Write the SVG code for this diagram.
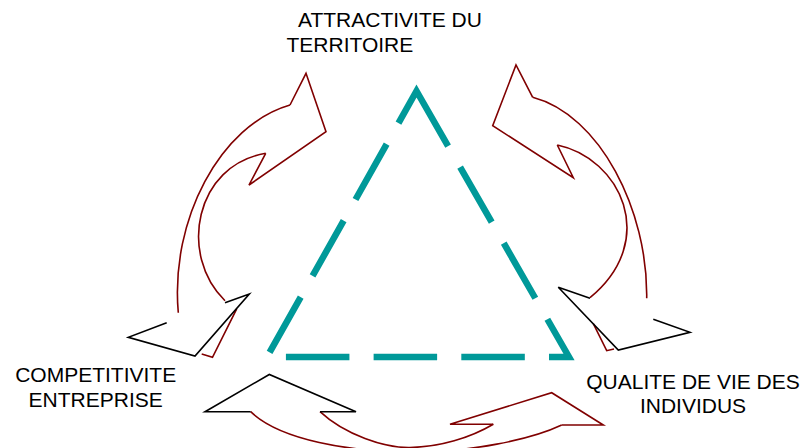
<svg xmlns="http://www.w3.org/2000/svg" width="804" height="448" viewBox="0 0 804 448">
  <style>
    .lbl { font-family: "Liberation Sans", Arial, sans-serif; font-size: 21px; fill: #000; }
    .mr { fill: none; stroke: #800000; stroke-width: 1.6; stroke-linejoin: miter; }
    .bk { fill: none; stroke: #000; stroke-width: 1.6; stroke-linejoin: miter; }
    .tri { fill: none; stroke: #009999; stroke-width: 6.5; stroke-dasharray: 63.5 24.2; stroke-linejoin: miter; }
  </style>
  <rect width="804" height="448" fill="#fff"/>

  <g id="triangle">
    <path class="tri" d="M416.5,91 L569,357 L267,357 Z"/>
  </g>

  <g id="connectors">
    <!-- left pair -->
    <path class="mr" d="M265.7,153.3 L249,185 L326,131.7 L306,73.3 L290,105"/>
    <path class="mr" d="M290,105 C220,125 170,220 178.3,312.7"/>
    <path class="mr" d="M265.7,153.3 C195,165 178,255 225,300.7"/>
    <path class="mr" d="M236.7,308.8 L212.5,357.3 L201.7,354"/>
    <path class="bk" d="M225,302.7 L249.3,294 L195,356 L128.3,337.3 L166.7,322.7"/>

    <!-- right pair -->
    <path class="mr" d="M557.3,145 L573.3,177.7 L492.7,125.7 L516,65 L532.7,97.3"/>
    <path class="mr" d="M532.7,97.3 C600,115 648,210 646.7,298.3"/>
    <path class="mr" d="M557.3,145 C620,158 660,240 590,297.7"/>
    <path class="mr" d="M593.3,323.6 L606.7,350.7 L614,349"/>
    <path class="bk" d="M590,298.3 L558.3,287.3 L618.3,350 L690,332.3 L653.3,319.3"/>

    <!-- bottom pair -->
    <path class="mr" d="M320,411.7 C345,435 385,448 410,447.5 C440,447 470,438 493.3,424.3"/>
    <path class="mr" d="M250.7,411.7 C280,440 350,452 413,452 C470,452 530,440 561.7,425"/>
    <path class="mr" d="M493.3,424.3 L450,424.3 L551.7,392.7 L603.3,425 L561.7,425"/>
    <path class="bk" d="M250.7,411.7 L205,411.7 L269.3,374.5 L356,411.7 L320,411.7"/>
  </g>

  <g id="node-attractivite">
    <text class="lbl" x="298" y="26.7">ATTRACTIVITE DU</text>
    <text class="lbl" x="286.5" y="51.7">TERRITOIRE</text>
  </g>
  <g id="node-competitivite">
    <text class="lbl" x="95.7" y="381.7" text-anchor="middle">COMPETITIVITE</text>
    <text class="lbl" x="95.7" y="406.7" text-anchor="middle">ENTREPRISE</text>
  </g>
  <g id="node-qualite">
    <text class="lbl" x="693" y="389.3" text-anchor="middle">QUALITE DE VIE DES</text>
    <text class="lbl" x="693" y="413.3" text-anchor="middle">INDIVIDUS</text>
  </g>
</svg>
